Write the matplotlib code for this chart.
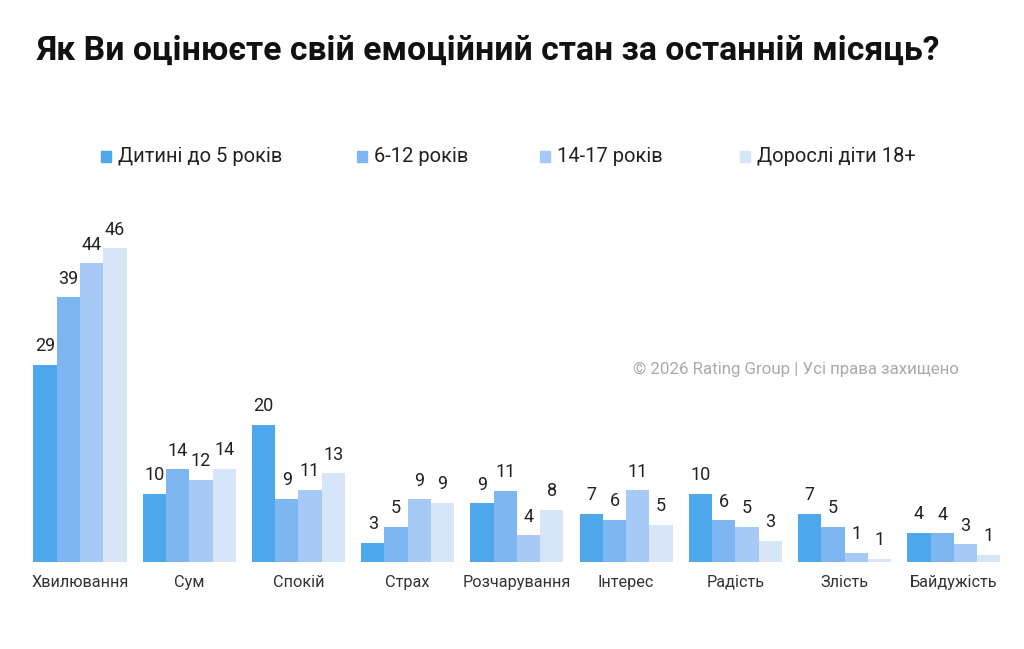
import matplotlib
matplotlib.use("Agg")
import matplotlib.pyplot as plt
from matplotlib.patches import Rectangle
import numpy as np

plt.rcParams['font.family'] = ['Roboto', 'DejaVu Sans']

# data (bar heights in %, labels as printed)
categories = ['Хвилювання', 'Сум', 'Спокій', 'Страх', 'Розчарування',
              'Інтерес', 'Радість', 'Злість', 'Байдужість']
series_names = ['Дитині до 5 років', '6-12 років', '14-17 років', 'Дорослі діти 18+']
under5 = [28.9, 10.0, 20.1, 2.8, 8.6, 7.1, 10.0, 7.1, 4.3]
age6_12 = [38.8, 13.6, 9.3, 5.2, 10.4, 6.2, 6.1, 5.2, 4.2]
age14_17 = [43.8, 12.0, 10.6, 9.2, 3.9, 10.5, 5.2, 1.3, 2.6]
adult18 = [46.0, 13.7, 13.0, 8.7, 7.6, 5.4, 3.1, 0.5, 1.0]
labels_under5 = [29, 10, 20, 3, 9, 7, 10, 7, 4]
labels_6_12 = [39, 14, 9, 5, 11, 6, 6, 5, 4]
labels_14_17 = [44, 12, 11, 9, 4, 11, 5, 1, 3]
labels_18 = [46, 14, 13, 9, 8, 5, 3, 1, 1]

series = [under5, age6_12, age14_17, adult18]
series_labels = [labels_under5, labels_6_12, labels_14_17, labels_18]
colors = ['#4ea7ea', '#7db6f0', '#a6caf5', '#d6e6f8']

fig = plt.figure(figsize=(10.24, 6.49), dpi=100)
ax = fig.add_axes([0.0248, 0.134, 0.960, 0.5255])

x = np.arange(len(categories))
w = 0.213
for i, (vals, labs, c) in enumerate(zip(series, series_labels, colors)):
    pos = x + (i - 1.5) * w
    ax.bar(pos, vals, width=w, color=c, linewidth=0)
    for px, v, lab in zip(pos, vals, labs):
        ax.annotate(str(lab), (px, v), xytext=(0, 7), textcoords='offset points',
                    ha='center', va='bottom', fontsize=13, color='#222222')

ax.set_xlim(-0.5, len(categories) - 0.5)
ax.set_ylim(0, 50)
ax.set_xticks(x)
ax.set_xticklabels(categories, fontsize=11.7, color='#333333')
ax.tick_params(axis='x', length=0, pad=9)
ax.set_yticks([])
for s in ax.spines.values():
    s.set_visible(False)

fig.text(0.036, 0.922, 'Як Ви оцінюєте свій емоційний стан за останній місяць?',
         fontsize=24.3, fontweight='bold', color='#111111', va='center', ha='left')

# legend
leg_x = [101, 357, 540, 740]
for lx, name, c in zip(leg_x, series_names, colors):
    fig.patches.append(Rectangle((lx / 1024, 1 - 162 / 649), 10 / 1024, 11 / 649,
                                 transform=fig.transFigure, color=c))
    fig.text((lx + 17) / 1024, 1 - 156 / 649, name, fontsize=14.5, color='#222222',
             va='center', ha='left')

fig.text(633 / 1024, 1 - 369 / 649, '© 2026 Rating Group | Усі права захищено',
         fontsize=12.2, color='#aaaaaa', va='center', ha='left')

fig.savefig('out.png', dpi=100, facecolor='white')
